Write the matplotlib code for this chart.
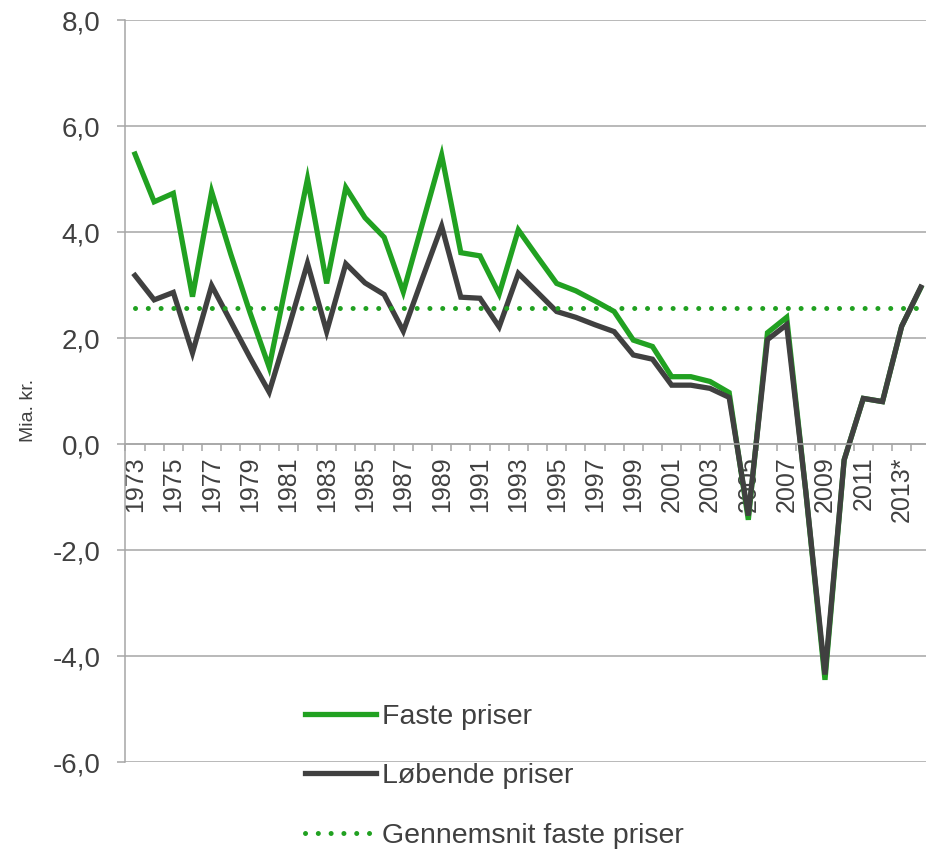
import numpy as np
import matplotlib
matplotlib.use('Agg')
import matplotlib.pyplot as plt
from matplotlib.ticker import FixedLocator, FuncFormatter

plt.rcParams['font.family'] = ['Liberation Sans', 'DejaVu Sans']

# Data (Mia. kr.)
years = ['1973', '1974', '1975', '1976', '1977', '1978', '1979', '1980', '1981', '1982',
         '1983', '1984', '1985', '1986', '1987', '1988', '1989', '1990', '1991', '1992',
         '1993', '1994', '1995', '1996', '1997', '1998', '1999', '2000', '2001', '2002',
         '2003', '2004', '2005', '2006', '2007', '2008', '2009', '2010', '2011', '2012',
         '2013*', '2014*']
faste = [5.47, 4.57, 4.73, 2.78, 4.76, 3.58, 2.48, 1.45, 3.22, 5.00,
         3.03, 4.84, 4.27, 3.90, 2.87, 4.16, 5.45, 3.61, 3.55, 2.83,
         4.04, 3.53, 3.03, 2.89, 2.70, 2.50, 1.96, 1.84, 1.27, 1.27,
         1.18, 0.97, -1.43, 2.10, 2.39, -0.90, -4.45, -0.30, 0.86, 0.80,
         2.22, 2.95]
loebende = [3.18, 2.72, 2.86, 1.72, 2.99, 2.31, 1.63, 0.98, 2.17, 3.41,
            2.12, 3.40, 3.04, 2.82, 2.13, 3.13, 4.11, 2.77, 2.75, 2.21,
            3.22, 2.86, 2.50, 2.39, 2.25, 2.12, 1.68, 1.60, 1.11, 1.11,
            1.05, 0.88, -1.35, 1.97, 2.25, -0.90, -4.35, -0.30, 0.86, 0.80,
            2.22, 2.96]
gennemsnit = 2.57

green = '#21a121'
dark = '#404040'
grid_col = '#a6a6a6'
text_col = '#404040'

fig = plt.figure(figsize=(9.26, 8.49), dpi=100)
ax = fig.add_axes([125.4 / 926, 87 / 849, 805 / 926, 742 / 849])

x = np.arange(len(years))
ax.plot(x, faste, color=green, lw=3.8, solid_joinstyle='miter', label='Faste priser')
ax.plot(x, loebende, color=dark, lw=3.8, solid_joinstyle='miter', label='Løbende priser')
ax.plot(x, [gennemsnit] * len(x), color=green, lw=3.6, linestyle=(0, (0.01, 2.55)),
        dash_capstyle='round', label='Gennemsnit faste priser')

ax.set_xlim(-0.5, len(years) - 0.5)
ax.set_ylim(-6, 8)

# y axis
ax.set_yticks(np.arange(-6, 9, 2))
ax.yaxis.set_major_formatter(FuncFormatter(lambda v, p: f'{v:.1f}'.replace('.', ',')))
ax.grid(axis='y', color=grid_col, lw=1.1)
ax.set_axisbelow(True)
ax.tick_params(axis='y', length=6, width=1.1, color=grid_col, pad=12,
               labelsize=20, labelcolor=text_col)
ax.set_ylabel('Mia. kr.', fontsize=14, color=text_col)
ax.yaxis.set_label_coords(-0.11, 0.474)

# x axis sits on zero
for s in ['top', 'right']:
    ax.spines[s].set_visible(False)
ax.spines['left'].set_color(grid_col)
ax.spines['left'].set_linewidth(1.1)
ax.spines['bottom'].set_position(('data', 0))
ax.spines['bottom'].set_color(grid_col)
ax.spines['bottom'].set_linewidth(1.1)

ax.set_xticks(x[::2])
ax.set_xticklabels(years[::2], rotation=90, va='top', ha='center')
ax.xaxis.set_minor_locator(FixedLocator(np.arange(-0.5, len(years), 1)))
ax.tick_params(axis='x', which='major', length=0, pad=9, labelsize=18, labelcolor=text_col)
ax.tick_params(axis='x', which='minor', length=5, width=1.1, color=grid_col, direction='out')

leg = fig.legend(loc='upper left', bbox_to_anchor=(305 / 926, 1 - 704 / 849),
                 frameon=False, fontsize=20.5, handlelength=2.5, handletextpad=0.22,
                 labelspacing=1.17, borderpad=0, borderaxespad=0)
for t in leg.get_texts():
    t.set_color(text_col)

fig.savefig('out.png', dpi=100)
